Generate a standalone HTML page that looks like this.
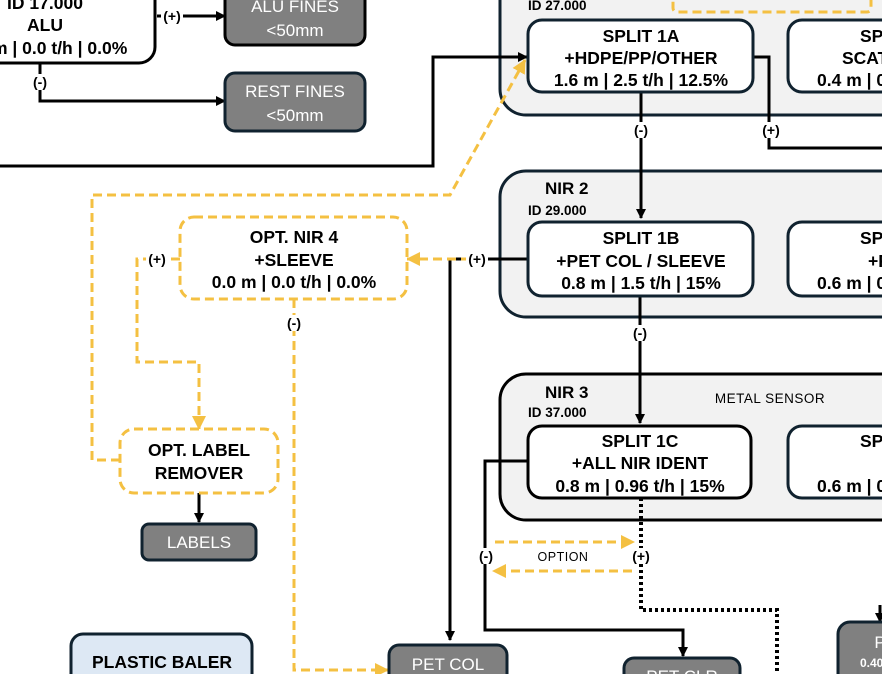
<!DOCTYPE html>
<html><head><meta charset="utf-8"><style>
html,body{margin:0;padding:0;background:#fff;}
svg{display:block;}
text{font-family:"Liberation Sans",sans-serif;}
.b{font-weight:bold;font-size:17.5px;fill:#000;text-anchor:middle;}
.s{font-weight:bold;font-size:17.5px;fill:#000;}
.w{font-size:17px;fill:#fff;text-anchor:middle;}
.l{font-weight:bold;font-size:14px;fill:#000;text-anchor:middle;}
.id{font-weight:bold;font-size:13.5px;fill:#000;}
</style></head><body>
<svg width="882" height="674" viewBox="0 0 882 674" xmlns="http://www.w3.org/2000/svg">
<defs>
<marker id="ak" markerWidth="10" markerHeight="10" refX="9" refY="5" orient="auto" markerUnits="userSpaceOnUse"><path d="M0,0 L10,5 L0,10z" fill="#000"/></marker>
<marker id="ay" markerWidth="14" markerHeight="14" refX="13" refY="7" orient="auto" markerUnits="userSpaceOnUse"><path d="M0,0 L14,7 L0,14z" fill="#f4c042"/></marker>
</defs>
<rect x="500" y="-40" width="420" height="155" rx="26" fill="#f2f2f2" stroke="#10222f" stroke-width="3"/>
<rect x="500" y="171" width="420" height="146" rx="26" fill="#f2f2f2" stroke="#10222f" stroke-width="3"/>
<rect x="500" y="374" width="420" height="146" rx="26" fill="#f2f2f2" stroke="#000" stroke-width="3"/>
<rect x="673" y="-20" width="198" height="32" rx="4" fill="none" stroke="#f4c042" stroke-width="3" stroke-dasharray="9,5"/>
<text class="id" x="528" y="10">ID 27.000</text>
<text x="545" y="194" style="font-weight:bold;font-size:17px">NIR 2</text>
<text class="id" x="528" y="215">ID 29.000</text>
<text x="545" y="398" style="font-weight:bold;font-size:17px">NIR 3</text>
<text class="id" x="528" y="417">ID 37.000</text>
<text x="770" y="403" style="font-size:13.5px;text-anchor:middle;letter-spacing:0.5px">METAL SENSOR</text>

<rect x="-40" y="-40" width="195" height="103" rx="16" fill="#fff" stroke="#000" stroke-width="3"/>
<text class="b" x="45" y="9">ID 17.000</text>
<text class="b" x="45" y="31">ALU</text>
<text class="s" x="-8" y="54">m | 0.0 t/h | 0.0%</text>

<path d="M157,16 H225" stroke="#000" stroke-width="3" fill="none" marker-end="url(#ak)"/>
<path d="M40,63 V101 H225" stroke="#000" stroke-width="3" fill="none" marker-end="url(#ak)"/>
<path d="M0,166 H433 V57 H527" stroke="#000" stroke-width="3" fill="none" marker-end="url(#ak)"/>
<path d="M641,92 V218" stroke="#000" stroke-width="3" fill="none" marker-end="url(#ak)"/>
<path d="M753,57 H769 V148 H882" stroke="#000" stroke-width="3" fill="none"/>
<path d="M528,259 H450 V640" stroke="#000" stroke-width="3" fill="none" marker-end="url(#ak)"/>
<path d="M640,296 V423" stroke="#000" stroke-width="3" fill="none" marker-end="url(#ak)"/>
<path d="M528,461 H485 V630 H683 V656" stroke="#000" stroke-width="3" fill="none" marker-end="url(#ak)"/>
<path d="M641,498 V610 H777 V674" stroke="#000" stroke-width="4" fill="none" stroke-dasharray="3,3"/>
<path d="M199,493 V522" stroke="#000" stroke-width="3" fill="none" marker-end="url(#ak)"/>
<path d="M880,605 V622" stroke="#000" stroke-width="3" fill="none" marker-end="url(#ak)"/>

<g stroke="#f4c042" stroke-width="3" fill="none" stroke-dasharray="9,5">
<path d="M120,460 H92 V195 H450 L525,60" marker-end="url(#ay)"/>
<path d="M470,259 H407" marker-end="url(#ay)"/>
<path d="M180,259 H137 V362 H199 V429" marker-end="url(#ay)"/>
<path d="M294,299 V670 H388" marker-end="url(#ay)"/>
<path d="M495,542 H634" marker-end="url(#ay)"/>
<path d="M632,571 H493" marker-end="url(#ay)"/>
</g>

<rect x="528" y="20" width="225" height="72" rx="14" fill="#fff" stroke="#10222f" stroke-width="3"/>
<text class="b" x="641" y="42">SPLIT 1A</text>
<text class="b" x="641" y="64">+HDPE/PP/OTHER</text>
<text class="b" x="641" y="86">1.6 m | 2.5 t/h | 12.5%</text>
<rect x="788" y="20" width="140" height="72" rx="14" fill="#fff" stroke="#10222f" stroke-width="3"/>
<text class="s" x="860" y="42">SPLIT</text>
<text class="s" x="842" y="64">SCATTER</text>
<text class="s" x="817" y="86">0.4 m | 0.</text>

<rect x="528" y="222" width="225" height="74" rx="14" fill="#fff" stroke="#10222f" stroke-width="3"/>
<text class="b" x="641" y="244">SPLIT 1B</text>
<text class="b" x="641" y="267">+PET COL / SLEEVE</text>
<text class="b" x="641" y="289">0.8 m | 1.5 t/h | 15%</text>
<rect x="788" y="222" width="140" height="74" rx="14" fill="#fff" stroke="#10222f" stroke-width="3"/>
<text class="s" x="860" y="244">SPLIT</text>
<text class="s" x="868" y="267">+PET</text>
<text class="s" x="817" y="289">0.6 m | 0.</text>

<rect x="528" y="426" width="223" height="72" rx="14" fill="#fff" stroke="#000" stroke-width="3"/>
<text class="b" x="640" y="447">SPLIT 1C</text>
<text class="b" x="640" y="469">+ALL NIR IDENT</text>
<text class="b" x="640" y="492">0.8 m | 0.96 t/h | 15%</text>
<rect x="788" y="426" width="140" height="72" rx="14" fill="#fff" stroke="#10222f" stroke-width="3"/>
<text class="s" x="860" y="447">SPLIT</text>
<text class="s" x="817" y="492">0.6 m | 0.</text>

<rect x="180" y="217" width="227" height="82" rx="14" fill="#fff" stroke="#f4c042" stroke-width="3" stroke-dasharray="9,5"/>
<text class="b" x="294" y="243">OPT. NIR 4</text>
<text class="b" x="294" y="266">+SLEEVE</text>
<text class="b" x="294" y="288">0.0 m | 0.0 t/h | 0.0%</text>
<rect x="120" y="429" width="158" height="64" rx="14" fill="#fff" stroke="#f4c042" stroke-width="3" stroke-dasharray="9,5"/>
<text class="b" x="199" y="456">OPT. LABEL</text>
<text class="b" x="199" y="479">REMOVER</text>

<rect x="225" y="-12" width="140" height="57" rx="10" fill="#808080" stroke="#000" stroke-width="3"/>
<text class="w" x="295" y="12">ALU FINES</text>
<text class="w" x="295" y="36">&lt;50mm</text>
<rect x="225" y="73" width="140" height="58" rx="10" fill="#808080" stroke="#10222f" stroke-width="3"/>
<text class="w" x="295" y="97">REST FINES</text>
<text class="w" x="295" y="121">&lt;50mm</text>
<rect x="142" y="524" width="114" height="36" rx="7" fill="#808080" stroke="#10222f" stroke-width="3"/>
<text class="w" x="199" y="548">LABELS</text>
<rect x="389" y="645" width="118" height="50" rx="10" fill="#808080" stroke="#10222f" stroke-width="3"/>
<text class="w" x="448" y="670">PET COL</text>
<rect x="624" y="658" width="116" height="40" rx="10" fill="#808080" stroke="#10222f" stroke-width="3"/>
<text class="w" x="682" y="682">PET CLR</text>
<rect x="838" y="622" width="80" height="70" rx="12" fill="#808080" stroke="#10222f" stroke-width="3"/>
<text class="w" x="880" y="648">P</text>
<text x="860" y="667" style="font-size:12px;font-weight:bold;fill:#fff">0.40</text>
<rect x="71" y="634" width="181" height="60" rx="12" fill="#dde8f4" stroke="#10222f" stroke-width="3"/>
<text class="b" x="162" y="668">PLASTIC BALER</text>

<g>
<rect x="161" y="8" width="22" height="16" fill="#fff"/><text class="l" x="172" y="21">(+)</text>
<rect x="32" y="74" width="16" height="16" fill="#fff"/><text class="l" x="40" y="87">(-)</text>
<rect x="633" y="122" width="16" height="16" fill="#fff"/><text class="l" x="641" y="135">(-)</text>
<rect x="760" y="122" width="22" height="16" fill="#fff"/><text class="l" x="771" y="135">(+)</text>
<rect x="466" y="251" width="22" height="16" fill="#fff"/><text class="l" x="477" y="264">(+)</text>
<rect x="146" y="251" width="22" height="16" fill="#fff"/><text class="l" x="157" y="264">(+)</text>
<rect x="286" y="315" width="16" height="16" fill="#fff"/><text class="l" x="294" y="328">(-)</text>
<rect x="632" y="325" width="16" height="16" fill="#fff"/><text class="l" x="640" y="338">(-)</text>
<rect x="478" y="548" width="16" height="16" fill="#fff"/><text class="l" x="486" y="561">(-)</text>
<rect x="630" y="548" width="22" height="16" fill="#fff"/><text class="l" x="641" y="561">(+)</text>
<text x="563" y="561" style="font-size:12.5px;text-anchor:middle;letter-spacing:0.5px">OPTION</text>
</g>
</svg>
</body></html>
